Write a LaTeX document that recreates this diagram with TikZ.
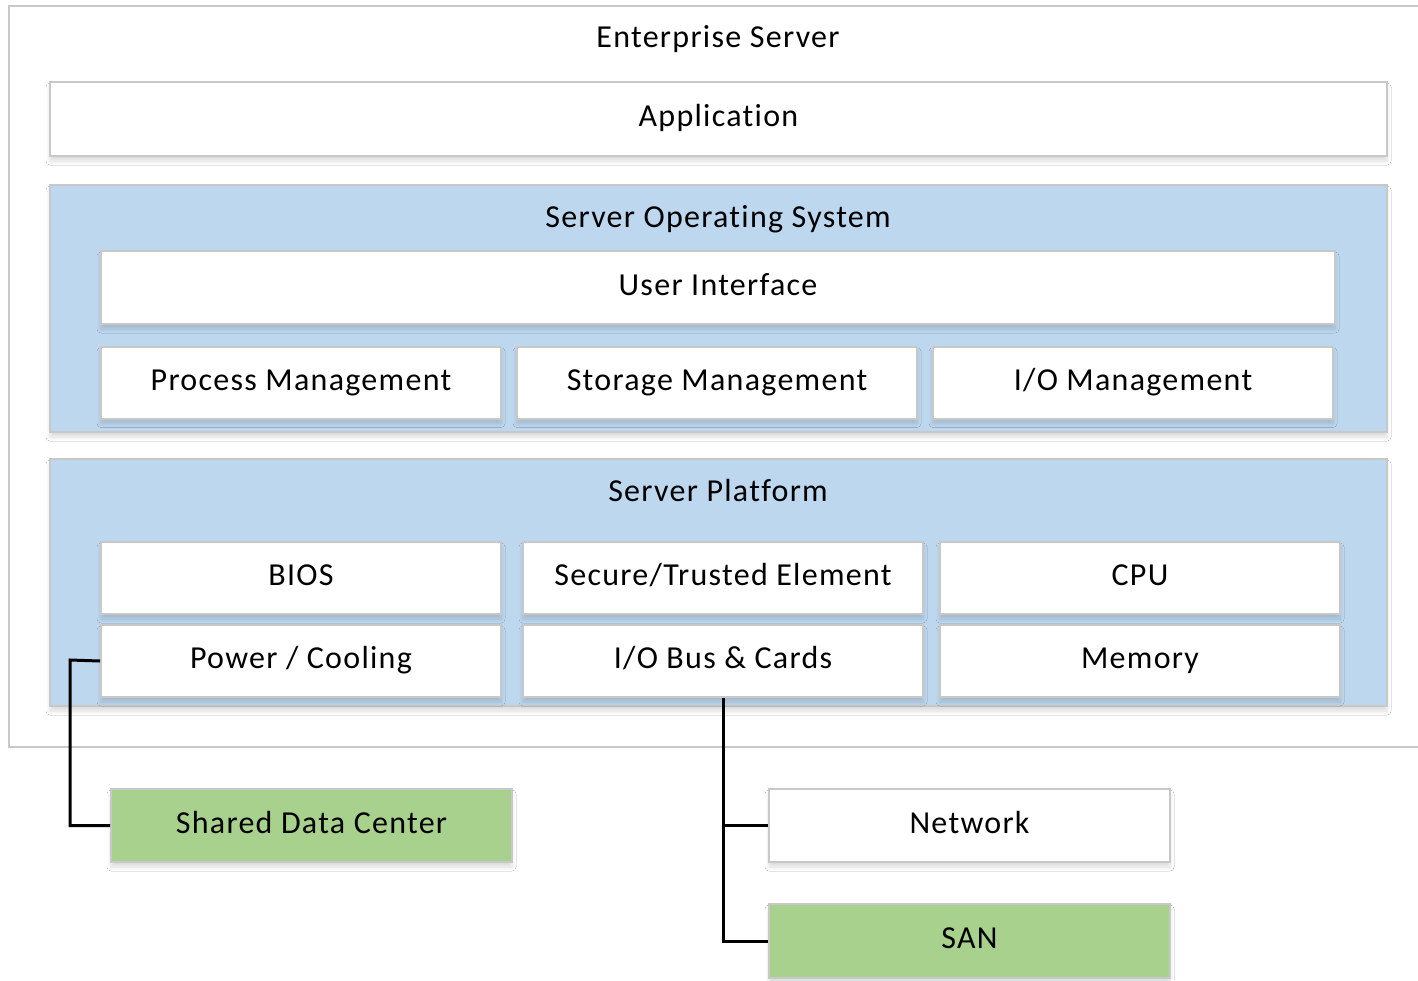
\documentclass[tikz,border=0pt]{standalone}
\usepackage{fontspec}
\setmainfont[LetterSpace=4, Ligatures=NoCommon]{Carlito}
\usetikzlibrary{shadows.blur}
\definecolor{edgegray}{HTML}{C8C8C8}
\definecolor{layerblue}{HTML}{BDD7EE}
\definecolor{extgreen}{HTML}{A9D18E}
\tikzset{
  x=1pt, y=-1pt,
  base/.style={draw=edgegray, line width=2pt, inner sep=0pt, font=\fontsize{32}{32}\selectfont,
    text height=22pt, text depth=7pt,
    blur shadow={shadow xshift=0pt, shadow yshift=-5pt, shadow blur radius=4pt, shadow blur steps=8, shadow opacity=14, shadow scale=1}},
  box/.style={base, fill=white, minimum height=72pt, minimum width=400pt},
  layer/.style={base, fill=layerblue},
  extbox/.style={base, fill=extgreen, minimum height=73pt, minimum width=401pt},
  caption/.style={font=\fontsize{32}{32}\selectfont, inner sep=0pt, text height=22pt, text depth=7pt},
  link/.style={line width=3pt, black}
}
\begin{document}
\begin{tikzpicture}
\useasboundingbox (0,0) rectangle (1418,980);
\fill[white] (0,0) rectangle (1418,980);

% enterprise server frame (runs off the right edge)
\draw[edgegray, line width=2pt] (1430,6) -- (9,6) -- (9,747) -- (1430,747);
\node[caption] (ent) at (718,40) {Enterprise Server};

% application layer
\node[box, minimum width=1337pt, minimum height=74pt] (app) at (718.5,119) {Application};

% operating system layer
\node[layer, minimum width=1337pt, minimum height=247pt] (os) at (718.5,308.5) {};
\node[caption] (oslabel) at (718,220) {Server Operating System};
\node[box, minimum width=1234pt, minimum height=73pt] (ui) at (718,287.5) {User Interface};
\node[box] (proc) at (301,382.5) {Process Management};
\node[box] (stor) at (717,382.5) {Storage Management};
\node[box] (iom) at (1133,382.5) {I/O Management};

% platform layer
\node[layer, minimum width=1337pt, minimum height=247pt] (plat) at (718.5,582.5) {};
\node[caption] (platlabel) at (718,494) {Server Platform};
\node[box] (bios) at (301,578) {BIOS};
\node[box] (sec) at (723,578) {Secure/Trusted Element};
\node[box] (cpu) at (1140,578) {CPU};
\node[box] (pow) at (301,661) {Power / Cooling};
\node[box] (iobus) at (723,661) {I/O Bus \& Cards};
\node[box] (mem) at (1140,661) {Memory};

% external resources
\node[extbox] (sdc) at (311.5,825.5) {Shared Data Center};
\node[box, minimum width=401pt, minimum height=73pt] (net) at (969.5,825.5) {Network};
\node[extbox, minimum height=74pt] (san) at (969.5,941) {SAN};

% connectors
\draw[link] (pow.west) -- (70,660) |- (sdc.west);
\draw[link] (iobus.south) |- (san.west);
\draw[link] (net.west) -- (iobus.south |- net.west);
\end{tikzpicture}
\end{document}
